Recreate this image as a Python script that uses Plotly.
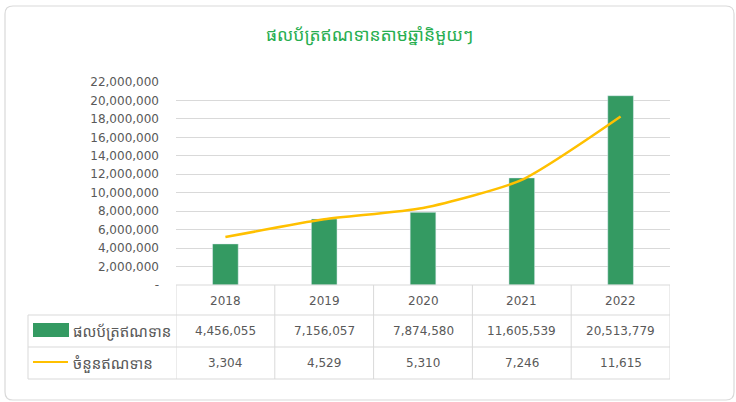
import plotly.graph_objects as go

years = ["2018", "2019", "2020", "2021", "2022"]
portfolio = [4456055, 7156057, 7874580, 11605539, 20513779]
loan_count = [3304, 4529, 5310, 7246, 11615]
series_names = ["ផលប័ត្រឥណទាន", "ចំនួនឥណទាន"]
title_text = "ផលប័ត្រឥណទានតាមឆ្នាំនិមួយៗ"
y_ticks = list(range(0, 22000001, 2000000))
y_ticklabels = ["-" if v == 0 else f"{v:,}" for v in y_ticks]

W, H = 736, 402
L, R, T, B = 176, 670, 82, 285
PW, PH = R - L, B - T

def px(x):
    return (x - L) / PW

def py(y):
    return (B - y) / PH

GREEN = "#349A62"
GOLD = "#FFC000"
GRID = "#D9D9D9"
TXT = "#595959"
KH = "Noto Sans Khmer, Khmer OS, Noto Sans, DejaVu Sans, sans-serif"
NUM = "DejaVu Sans, sans-serif"

fig = go.Figure()
fig.add_trace(go.Bar(x=years, y=portfolio, marker=dict(color=GREEN), width=0.26,
                     name=series_names[0], showlegend=False))
fig.add_trace(go.Scatter(x=years, y=loan_count, yaxis="y2", mode="lines",
                         line=dict(color=GOLD, width=2.5, shape="spline", smoothing=0.6),
                         name=series_names[1], showlegend=False))

shapes = []
x0, x1, y0, y1, r = px(5), px(734), py(6), py(400), 8
rx, ry = r / PW, r / PH
path = (f"M {x0+rx},{y0} L {x1-rx},{y0} Q {x1},{y0} {x1},{y0-ry} "
        f"L {x1},{y1+ry} Q {x1},{y1} {x1-rx},{y1} L {x0+rx},{y1} "
        f"Q {x0},{y1} {x0},{y1+ry} L {x0},{y0-ry} Q {x0},{y0} {x0+rx},{y0} Z")
shapes.append(dict(type="path", xref="paper", yref="paper", path=path,
                   line=dict(color="#D9D9D9", width=1.2), layer="below"))

row_lines = [285, 315, 347, 379]
n = len(years)
for i in range(n + 1):
    shapes.append(dict(type="line", xref="x", yref="paper", x0=i - 0.5, x1=i - 0.5,
                       y0=py(285), y1=py(379), line=dict(color=GRID, width=1)))
for yy in row_lines:
    shapes.append(dict(type="line", xref="x", yref="paper", x0=-0.5, x1=n - 0.5,
                       y0=py(yy), y1=py(yy), line=dict(color=GRID, width=1)))
for yy in row_lines[1:]:
    shapes.append(dict(type="line", xref="paper", yref="paper", x0=px(28), x1=px(176),
                       y0=py(yy), y1=py(yy), line=dict(color=GRID, width=1)))
shapes.append(dict(type="line", xref="paper", yref="paper", x0=px(28), x1=px(28),
                   y0=py(315), y1=py(379), line=dict(color=GRID, width=1)))
shapes.append(dict(type="rect", xref="paper", yref="paper", x0=px(33), x1=px(69),
                   y0=py(337), y1=py(323), fillcolor=GREEN, line=dict(width=0)))
shapes.append(dict(type="line", xref="paper", yref="paper", x0=px(33), x1=px(68),
                   y0=py(362), y1=py(362), line=dict(color=GOLD, width=2)))

ann = []
ann.append(dict(text=title_text, xref="paper", yref="paper", x=px(369), y=py(37),
                showarrow=False, font=dict(family=KH, size=17.5, color="#27AE50"),
                xanchor="center", yanchor="middle", yshift=3))
row_centers = [300.5, 331, 363]
num_font = dict(family=NUM, size=12, color=TXT)
for i, yr in enumerate(years):
    for k, txt in enumerate([yr, f"{portfolio[i]:,}", f"{loan_count[i]:,}"]):
        ann.append(dict(text=txt, xref="x", yref="paper", x=i, y=py(row_centers[k]),
                        showarrow=False, xanchor="center", yanchor="middle",
                        font=num_font))
for k, nm in enumerate(series_names):
    ann.append(dict(text=nm, xref="paper", yref="paper", x=px(71), y=py(row_centers[k + 1]),
                    xanchor="left", yanchor="middle", showarrow=False,
                    font=dict(family=KH, size=15, color=TXT)))

fig.update_layout(
    width=W, height=H, autosize=False,
    margin=dict(l=L, r=W - R, t=T, b=H - B, pad=0),
    paper_bgcolor="white", plot_bgcolor="white",
    xaxis=dict(type="category", range=[-0.5, n - 0.5], showticklabels=False,
               showgrid=False, zeroline=False, showline=False, fixedrange=True),
    yaxis=dict(range=[0, 22000000], tickvals=y_ticks, ticktext=y_ticklabels,
               showgrid=True, gridcolor=GRID, gridwidth=1, zeroline=False, showline=False,
               tickfont=dict(family=NUM, size=12, color=TXT), ticklabelstandoff=16,
               fixedrange=True),
    yaxis2=dict(range=[0, 14000], overlaying="y", side="right", visible=False,
                showgrid=False, fixedrange=True),
    shapes=shapes, annotations=ann, showlegend=False,
)

fig.write_html("out.html", config={"displayModeBar": False},
               post_script="document.body.style.margin='0';document.body.style.padding='0';")
